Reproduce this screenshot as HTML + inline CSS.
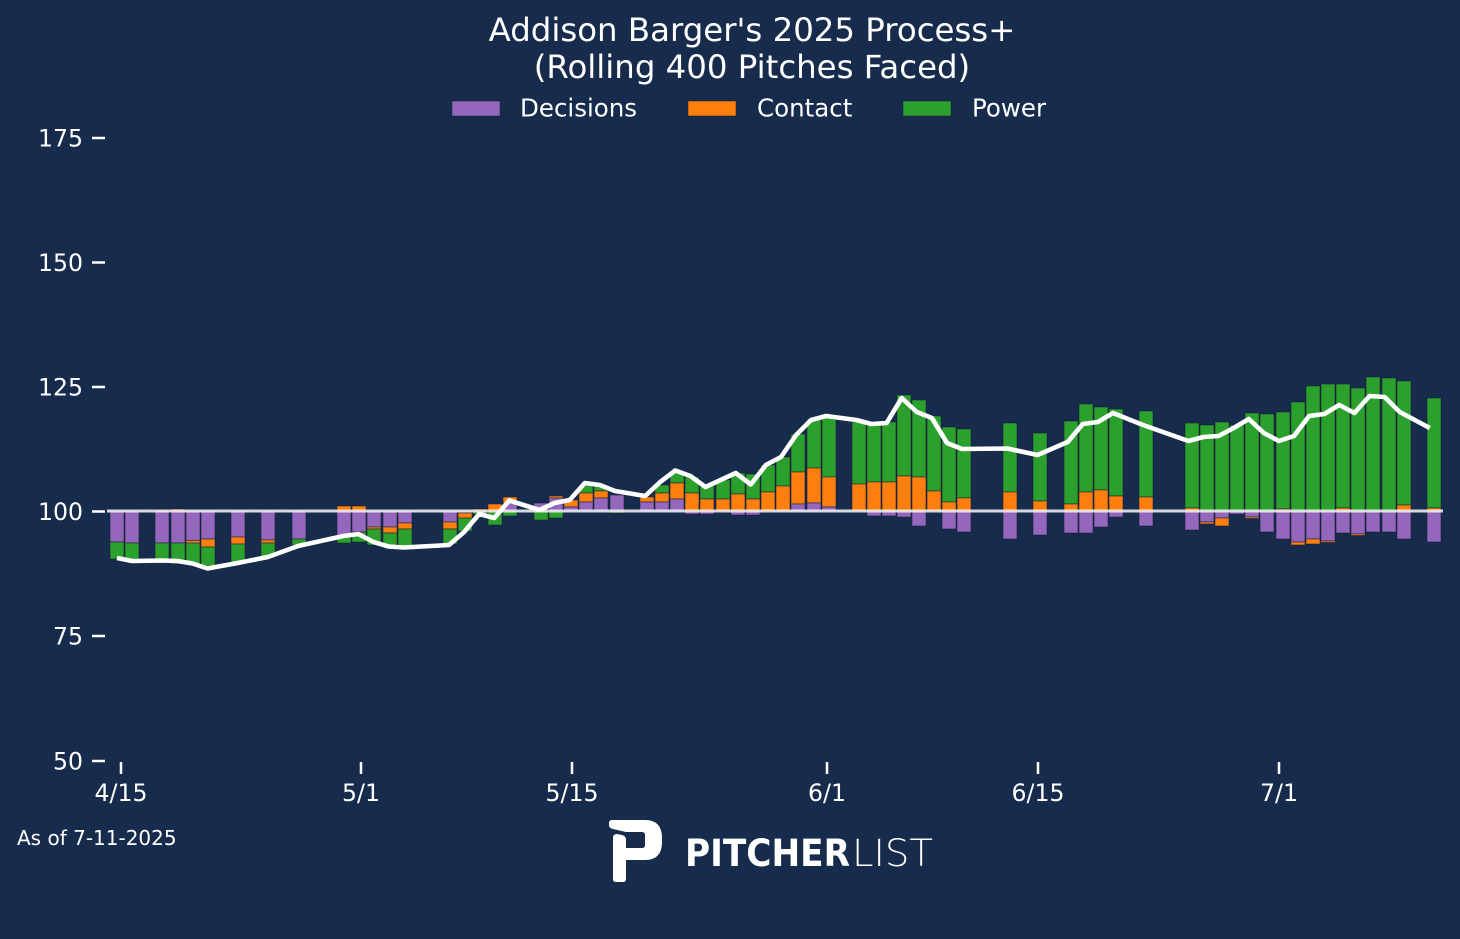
<!DOCTYPE html>
<html><head><meta charset="utf-8">
<style>
html,body{margin:0;padding:0;background:#172b4d;}
svg{display:block;}
text{font-family:"DejaVu Sans","Liberation Sans",sans-serif;fill:#fff;}
.p{fill:#9467bd}.o{fill:#ff7f0e}.g{fill:#2ca02c}
.bars rect{stroke:rgba(20,30,50,0.55);stroke-width:1;}
</style></head>
<body>
<svg width="1460" height="939" viewBox="0 0 1460 939" xmlns="http://www.w3.org/2000/svg">
<rect x="0" y="0" width="1460" height="939" fill="#172b4d"/>
<text x="752" y="41" font-size="32.4" text-anchor="middle">Addison Barger's 2025 Process+</text>
<text x="752" y="78" font-size="32.4" text-anchor="middle">(Rolling 400 Pitches Faced)</text>
<rect x="452" y="101" width="48" height="15" class="p" stroke="rgba(20,30,50,0.5)"/>
<text x="520" y="116.5" font-size="24.5">Decisions</text>
<rect x="688" y="101" width="48" height="15" class="o" stroke="rgba(20,30,50,0.5)"/>
<text x="757" y="116.5" font-size="24.5">Contact</text>
<rect x="903" y="101" width="48" height="15" class="g" stroke="rgba(20,30,50,0.5)"/>
<text x="972" y="116.5" font-size="24.5">Power</text>
<g stroke="#fff" stroke-width="2.5">
<line x1="92" y1="138" x2="105" y2="138"/><line x1="92" y1="262.5" x2="105" y2="262.5"/><line x1="92" y1="387" x2="105" y2="387"/><line x1="92" y1="511.5" x2="105" y2="511.5"/><line x1="92" y1="636" x2="105" y2="636"/><line x1="92" y1="761" x2="105" y2="761"/>
<line x1="121" y1="762" x2="121" y2="774"/><line x1="361" y1="762" x2="361" y2="774"/><line x1="572" y1="762" x2="572" y2="774"/><line x1="827" y1="762" x2="827" y2="774"/><line x1="1038" y1="762" x2="1038" y2="774"/><line x1="1279" y1="762" x2="1279" y2="774"/>
</g>
<g font-size="23.6" text-anchor="end">
<text x="83" y="146.5">175</text><text x="83" y="271">150</text><text x="83" y="395.5">125</text><text x="83" y="520">100</text><text x="83" y="644.5">75</text><text x="83" y="769.5">50</text>
</g>
<g font-size="23.6" text-anchor="middle">
<text x="121" y="801">4/15</text><text x="361" y="801">5/1</text><text x="572" y="801">5/15</text><text x="827" y="801">6/1</text><text x="1038" y="801">6/15</text><text x="1279" y="801">7/1</text>
</g>
<g class="bars">
<rect x="110" y="511" width="14" height="31" class="p"/><rect x="110" y="542" width="14" height="17" class="g"/>
<rect x="125" y="511" width="14" height="32" class="p"/><rect x="125" y="543" width="14" height="16" class="g"/>
<rect x="155" y="509.5" width="14" height="1.5" class="o"/><rect x="155" y="511" width="14" height="32" class="p"/><rect x="155" y="543" width="14" height="16" class="g"/>
<rect x="171" y="509" width="14" height="2" class="o"/><rect x="171" y="511" width="14" height="32" class="p"/><rect x="171" y="543" width="14" height="21" class="g"/>
<rect x="186" y="511" width="14" height="29.5" class="p"/><rect x="186" y="540.5" width="14" height="2.5" class="o"/><rect x="186" y="543" width="14" height="21" class="g"/>
<rect x="201" y="511" width="14" height="28" class="p"/><rect x="201" y="539" width="14" height="8" class="o"/><rect x="201" y="547" width="14" height="19" class="g"/>
<rect x="231" y="511" width="14" height="26" class="p"/><rect x="231" y="537" width="14" height="7" class="o"/><rect x="231" y="544" width="14" height="18" class="g"/>
<rect x="261" y="511" width="14" height="29" class="p"/><rect x="261" y="540" width="14" height="3" class="o"/><rect x="261" y="543" width="14" height="14" class="g"/>
<rect x="292" y="511" width="14" height="28" class="p"/><rect x="292" y="539" width="14" height="6" class="g"/>
<rect x="337" y="506" width="14" height="5" class="o"/><rect x="337" y="511" width="14" height="24" class="p"/><rect x="337" y="535" width="14" height="8" class="g"/>
<rect x="352" y="506" width="14" height="5" class="o"/><rect x="352" y="511" width="14" height="21" class="p"/><rect x="352" y="532" width="14" height="10" class="g"/>
<rect x="367" y="511" width="14" height="16" class="p"/><rect x="367" y="527" width="14" height="2" class="o"/><rect x="367" y="529" width="14" height="16" class="g"/>
<rect x="383" y="511" width="14" height="16" class="p"/><rect x="383" y="527" width="14" height="6" class="o"/><rect x="383" y="533" width="14" height="12" class="g"/>
<rect x="398" y="511" width="14" height="12" class="p"/><rect x="398" y="523" width="14" height="6" class="o"/><rect x="398" y="529" width="14" height="17" class="g"/>
<rect x="443" y="511" width="14" height="11" class="p"/><rect x="443" y="522" width="14" height="7" class="o"/><rect x="443" y="529" width="14" height="15" class="g"/>
<rect x="458" y="511" width="14" height="2" class="p"/><rect x="458" y="513" width="14" height="5" class="o"/><rect x="458" y="518" width="14" height="13" class="g"/>
<rect x="473" y="509" width="14" height="2" class="o"/><rect x="473" y="511" width="14" height="3" class="g"/>
<rect x="488" y="504" width="14" height="7" class="o"/><rect x="488" y="511" width="14" height="14" class="g"/>
<rect x="503" y="497" width="14" height="6" class="o"/><rect x="503" y="503" width="14" height="8" class="p"/><rect x="503" y="511" width="14" height="5" class="g"/>
<rect x="534" y="503" width="14" height="8" class="p"/><rect x="534" y="511" width="14" height="9" class="g"/>
<rect x="549" y="496" width="14" height="2" class="o"/><rect x="549" y="498" width="14" height="13" class="p"/><rect x="549" y="511" width="14" height="7" class="g"/>
<rect x="564" y="500" width="14" height="7" class="o"/><rect x="564" y="507" width="14" height="4" class="p"/>
<rect x="579" y="485" width="14" height="8" class="g"/><rect x="579" y="493" width="14" height="9" class="o"/><rect x="579" y="502" width="14" height="9" class="p"/>
<rect x="594" y="486" width="14" height="5" class="g"/><rect x="594" y="491" width="14" height="7" class="o"/><rect x="594" y="498" width="14" height="13" class="p"/>
<rect x="610" y="495" width="14" height="16" class="p"/><rect x="610" y="511" width="14" height="2" class="g"/>
<rect x="640" y="497" width="14" height="5" class="o"/><rect x="640" y="502" width="14" height="9" class="p"/>
<rect x="655" y="485" width="14" height="8" class="g"/><rect x="655" y="493" width="14" height="9" class="o"/><rect x="655" y="502" width="14" height="9" class="p"/>
<rect x="670" y="473" width="14" height="10" class="g"/><rect x="670" y="483" width="14" height="16" class="o"/><rect x="670" y="499" width="14" height="12" class="p"/>
<rect x="685" y="477" width="14" height="16" class="g"/><rect x="685" y="493" width="14" height="18" class="o"/><rect x="685" y="511" width="14" height="3" class="p"/>
<rect x="700" y="485" width="14" height="14" class="g"/><rect x="700" y="499" width="14" height="12" class="o"/><rect x="700" y="511" width="14" height="3" class="p"/>
<rect x="716" y="480" width="14" height="19" class="g"/><rect x="716" y="499" width="14" height="12" class="o"/>
<rect x="731" y="473" width="14" height="21" class="g"/><rect x="731" y="494" width="14" height="17" class="o"/><rect x="731" y="511" width="14" height="4" class="p"/>
<rect x="746" y="474" width="14" height="25" class="g"/><rect x="746" y="499" width="14" height="12" class="o"/><rect x="746" y="511" width="14" height="4" class="p"/>
<rect x="761" y="465" width="14" height="27" class="g"/><rect x="761" y="492" width="14" height="19" class="o"/>
<rect x="776" y="457" width="14" height="29" class="g"/><rect x="776" y="486" width="14" height="25" class="o"/>
<rect x="791" y="434" width="14" height="38" class="g"/><rect x="791" y="472" width="14" height="32" class="o"/><rect x="791" y="504" width="14" height="7" class="p"/>
<rect x="807" y="419" width="14" height="49" class="g"/><rect x="807" y="468" width="14" height="35" class="o"/><rect x="807" y="503" width="14" height="8" class="p"/>
<rect x="822" y="416" width="14" height="61" class="g"/><rect x="822" y="477" width="14" height="30" class="o"/><rect x="822" y="507" width="14" height="4" class="p"/>
<rect x="852" y="422" width="14" height="62" class="g"/><rect x="852" y="484" width="14" height="27" class="o"/>
<rect x="867" y="423" width="14" height="59" class="g"/><rect x="867" y="482" width="14" height="29" class="o"/><rect x="867" y="511" width="14" height="5" class="p"/>
<rect x="882" y="422" width="14" height="60" class="g"/><rect x="882" y="482" width="14" height="29" class="o"/><rect x="882" y="511" width="14" height="5" class="p"/>
<rect x="897" y="395" width="14" height="81" class="g"/><rect x="897" y="476" width="14" height="35" class="o"/><rect x="897" y="511" width="14" height="6" class="p"/>
<rect x="912" y="400" width="14" height="77" class="g"/><rect x="912" y="477" width="14" height="34" class="o"/><rect x="912" y="511" width="14" height="15" class="p"/>
<rect x="927" y="416" width="14" height="75" class="g"/><rect x="927" y="491" width="14" height="20" class="o"/>
<rect x="942" y="427" width="14" height="75" class="g"/><rect x="942" y="502" width="14" height="9" class="o"/><rect x="942" y="511" width="14" height="18" class="p"/>
<rect x="957" y="429" width="14" height="69" class="g"/><rect x="957" y="498" width="14" height="13" class="o"/><rect x="957" y="511" width="14" height="21" class="p"/>
<rect x="1003" y="423" width="14" height="69" class="g"/><rect x="1003" y="492" width="14" height="19" class="o"/><rect x="1003" y="511" width="14" height="28" class="p"/>
<rect x="1033" y="433" width="14" height="68" class="g"/><rect x="1033" y="501" width="14" height="10" class="o"/><rect x="1033" y="511" width="14" height="24" class="p"/>
<rect x="1064" y="421" width="14" height="83" class="g"/><rect x="1064" y="504" width="14" height="7" class="o"/><rect x="1064" y="511" width="14" height="22" class="p"/>
<rect x="1079" y="404" width="14" height="88" class="g"/><rect x="1079" y="492" width="14" height="19" class="o"/><rect x="1079" y="511" width="14" height="22" class="p"/>
<rect x="1094" y="407" width="14" height="83" class="g"/><rect x="1094" y="490" width="14" height="21" class="o"/><rect x="1094" y="511" width="14" height="16" class="p"/>
<rect x="1109" y="409" width="14" height="87" class="g"/><rect x="1109" y="496" width="14" height="15" class="o"/><rect x="1109" y="511" width="14" height="6" class="p"/>
<rect x="1139" y="411" width="14" height="86" class="g"/><rect x="1139" y="497" width="14" height="14" class="o"/><rect x="1139" y="511" width="14" height="15" class="p"/>
<rect x="1185" y="423" width="14" height="85" class="g"/><rect x="1185" y="508" width="14" height="3" class="o"/><rect x="1185" y="511" width="14" height="19" class="p"/>
<rect x="1200" y="425" width="14" height="86" class="g"/><rect x="1200" y="511" width="14" height="11" class="p"/><rect x="1200" y="522" width="14" height="2" class="o"/>
<rect x="1215" y="422" width="14" height="89" class="g"/><rect x="1215" y="511" width="14" height="7" class="p"/><rect x="1215" y="518" width="14" height="8" class="o"/>
<rect x="1230" y="425" width="14" height="86" class="g"/><rect x="1230" y="511" width="14" height="3" class="p"/>
<rect x="1245" y="413" width="14" height="98" class="g"/><rect x="1245" y="511" width="14" height="6" class="p"/><rect x="1245" y="517" width="14" height="1.5" class="o"/>
<rect x="1260" y="414" width="14" height="97" class="g"/><rect x="1260" y="511" width="14" height="21" class="p"/>
<rect x="1276" y="412" width="14" height="97" class="g"/><rect x="1276" y="509" width="14" height="2" class="o"/><rect x="1276" y="511" width="14" height="28" class="p"/>
<rect x="1291" y="402" width="14" height="109" class="g"/><rect x="1291" y="511" width="14" height="31" class="p"/><rect x="1291" y="542" width="14" height="3" class="o"/>
<rect x="1306" y="386" width="14" height="125" class="g"/><rect x="1306" y="511" width="14" height="28" class="p"/><rect x="1306" y="539" width="14" height="5" class="o"/>
<rect x="1321" y="384" width="14" height="127" class="g"/><rect x="1321" y="511" width="14" height="30" class="p"/><rect x="1321" y="541" width="14" height="1.5" class="o"/>
<rect x="1336" y="384" width="14" height="124" class="g"/><rect x="1336" y="508" width="14" height="3" class="o"/><rect x="1336" y="511" width="14" height="22" class="p"/>
<rect x="1351" y="388" width="14" height="123" class="g"/><rect x="1351" y="511" width="14" height="23" class="p"/><rect x="1351" y="534" width="14" height="1.5" class="o"/>
<rect x="1366" y="377" width="14" height="134" class="g"/><rect x="1366" y="511" width="14" height="21" class="p"/>
<rect x="1382" y="378" width="14" height="133" class="g"/><rect x="1382" y="511" width="14" height="21" class="p"/>
<rect x="1397" y="381" width="14" height="124" class="g"/><rect x="1397" y="505" width="14" height="6" class="o"/><rect x="1397" y="511" width="14" height="28" class="p"/>
<rect x="1427" y="398" width="14" height="110" class="g"/><rect x="1427" y="508" width="14" height="3" class="o"/><rect x="1427" y="511" width="14" height="31" class="p"/>
</g>
<line x1="107" y1="511" x2="1443" y2="511" stroke="#ffffff" stroke-opacity="0.82" stroke-width="3"/>
<polyline fill="none" stroke="#fff" stroke-width="4.6" stroke-linejoin="round" stroke-linecap="butt" points="117,558 132.1,561 162.3,560.5 177.4,561 192.5,563.5 207.5,568.5 237.7,563 267.9,557 298.1,546 343.4,536 358.4,534 373.5,542 388.6,546.5 403.7,547.5 449,545 464.1,532 479.2,514 494.3,518 509.3,500.5 539.5,510 554.6,503 569.7,500 584.8,483 599.9,485 615,491 645.2,496 660.2,482 675.3,470.5 690.4,476 705.5,487 720.6,480 735.7,473 750.8,484.5 765.9,465 781,457 796.1,435 811.1,420 826.2,416 856.4,420 871.5,424 886.6,423 901.7,398 916.8,412 931.9,418 947,443 962,449 1007.3,448.5 1037.5,455 1067.7,442 1082.8,424 1097.9,422 1113,413 1143.1,425 1188.4,441 1203.5,437 1218.6,436 1233.7,428 1248.8,419 1263.8,433 1278.9,441 1294,436 1309.1,416 1324.2,414 1339.3,405 1354.4,413 1369.5,396 1384.6,397 1399.7,412 1429.8,428"/>
<text x="17" y="845" font-size="20">As of 7-11-2025</text>
<path fill="#fff" fill-rule="evenodd" d="M609,823 Q609,820 612,820 L645,820 Q662,820 662,838 L662,842 Q662,860 645,860 L626,860 L626,848 L642,848 Q645,848 645,845 L645,835 Q645,832 642,832 L626,832 L613,829 Q609,828 609,825 Z"/>
<path fill="#fff" d="M613,838 Q613,834 617,834 L622,835 Q626,836 626,840 L626,879 Q626,882 623,882 L616,882 Q613,882 613,879 Z"/>
<text x="685" y="866" font-size="37" font-weight="bold" textLength="165" lengthAdjust="spacingAndGlyphs">PITCHER</text>
<text x="852" y="866" font-size="37" font-weight="200" textLength="81" lengthAdjust="spacingAndGlyphs">LIST</text>
</svg>
</body></html>
